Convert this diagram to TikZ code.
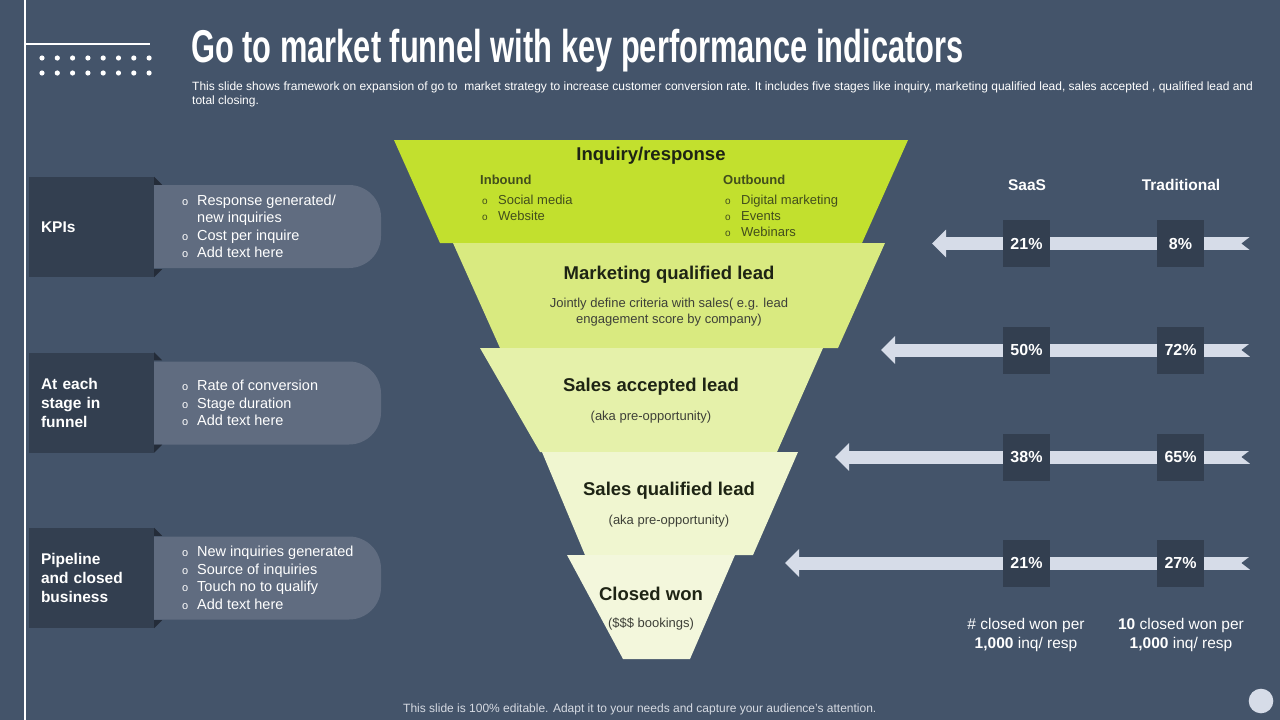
\documentclass[tikz,border=0pt]{standalone}
\usepackage{fontspec}
\setmainfont{Liberation Sans}
\newfontfamily\titlefont[FakeStretch=0.67]{Liberation Sans}
\usetikzlibrary{arrows.meta,positioning}

\definecolor{slate}{RGB}{68,84,106}
\definecolor{slatedark}{RGB}{51,63,80}
\definecolor{slatefold}{RGB}{36,44,57}
\definecolor{pillgray}{RGB}{96,108,128}
\definecolor{bandgray}{RGB}{214,220,232}
\definecolor{footgray}{RGB}{214,218,226}
\definecolor{lvlone}{RGB}{194,224,46}
\definecolor{lvltwo}{RGB}{217,234,128}
\definecolor{lvlthree}{RGB}{229,241,170}
\definecolor{lvlfour}{RGB}{240,246,208}
\definecolor{lvlfive}{RGB}{243,247,220}
\definecolor{headink}{RGB}{30,36,20}
\definecolor{noteink}{RGB}{62,64,56}
\definecolor{oliveink}{RGB}{66,78,28}

\newcommand{\fs}[2]{\fontsize{#1}{#2}\selectfont}
\newcommand{\blt}{\makebox[16pt][l]{\hspace*{1pt}\fs{11}{11}o}}
\newcommand{\fblt}{\makebox[16pt][l]{\hspace*{0pt}\fs{10}{10}o}}

\begin{document}
\begin{tikzpicture}[
    x=1pt,
    y=-1pt,
    kpibox/.style={
        fill=slatedark,
        minimum width=125pt,
        minimum height=100pt,
        text width=101pt,
        inner sep=0pt,
        align=left,
        text=white,
        font=\fs{15.5}{19}\bfseries
    },
    pill/.style={
        fill=pillgray,
        rounded corners=32pt,
        minimum width=261pt,
        minimum height=83pt
    },
    items/.style={
        anchor=west,
        align=left,
        inner sep=0pt,
        text=white,
        font=\fs{14.5}{17.5}
    },
    stagehead/.style={
        inner sep=0pt,
        text=headink,
        font=\fs{18.5}{22}\bfseries
    },
    stagenote/.style={
        inner sep=0pt,
        align=center,
        text=noteink,
        font=\fs{13}{16}
    },
    subhead/.style={
        anchor=west,
        inner sep=0pt,
        text=oliveink,
        font=\fs{13}{16}\bfseries
    },
    subitems/.style={
        anchor=west,
        align=left,
        inner sep=0pt,
        text=oliveink,
        font=\fs{13}{16}
    },
    colhead/.style={
        inner sep=0pt,
        text=white,
        font=\fs{15.5}{19}\bfseries
    },
    rate/.style={
        fill=slatedark,
        minimum size=47pt,
        inner sep=0pt,
        text=white,
        font=\fs{16}{16}\bfseries
    },
    colnote/.style={
        inner sep=0pt,
        align=center,
        text=white,
        font=\fs{15.5}{19}
    },
    band/.style={
        draw=bandgray,
        line width=13pt,
        -{Triangle[width=27pt,length=14pt]}
    },
    notch/.style={
        fill=slate
    }
]

\useasboundingbox (0,0) rectangle (1280,720);
\fill[slate] (0,0) rectangle (1280,720);

\draw[white, line width=2pt] (25,0) -- (25,720);
\draw[white, line width=2pt] (25,44) -- (150,44);
\foreach \i in {0,...,7} {
    \fill[white] (42+15.3*\i,58) circle (2.6);
    \fill[white] (42+15.3*\i,73) circle (2.6);
}

\node[anchor=base west, inner sep=0pt, text=white, font=\titlefont\fs{46}{46}\bfseries] (title) at (191,62)
    {Go to market funnel with key performance indicators};
\node[anchor=north west, inner sep=0pt, align=left, text=white, font=\fs{12}{14}] (subtitle) at (192,82)
    {This slide shows framework on expansion of go to \ market strategy to increase customer conversion rate. It includes five stages like inquiry, marketing qualified lead, sales accepted , qualified lead and\\total closing.};

\node[pill] (pill1) at (250.5,226.5) {};
\node[pill] (pill2) at (250.5,403) {};
\node[pill] (pill3) at (250.5,578) {};

\node[kpibox] (kpi1) at (91.5,227) {KPIs};
\node[kpibox] (kpi2) at (91.5,402.5) {At each\\stage in\\funnel};
\node[kpibox] (kpi3) at (91.5,578) {Pipeline\\and closed\\business};

\fill[slatefold] (kpi1.north east) -- ++(8,8) -- ++(-8,0) -- cycle;
\fill[slatefold] (kpi1.south east) -- ++(8,-8) -- ++(-8,0) -- cycle;
\fill[slatefold] (kpi2.north east) -- ++(8,8) -- ++(-8,0) -- cycle;
\fill[slatefold] (kpi2.south east) -- ++(8,-8) -- ++(-8,0) -- cycle;
\fill[slatefold] (kpi3.north east) -- ++(8,8) -- ++(-8,0) -- cycle;
\fill[slatefold] (kpi3.south east) -- ++(8,-8) -- ++(-8,0) -- cycle;

\node[items] (list1) at (181,226.5) {\blt Response generated/\\\hspace*{16pt}new inquiries\\\blt Cost per inquire\\\blt Add text here};
\node[items] (list2) at (181,403) {\blt Rate of conversion\\\blt Stage duration\\\blt Add text here};
\node[items] (list3) at (181,578) {\blt New inquiries generated\\\blt Source of inquiries\\\blt Touch no to qualify\\\blt Add text here};

\fill[lvlone] (394,140) -- (908,140) -- (862,243) -- (440,243) -- cycle;
\fill[lvltwo] (453,243) -- (885,243) -- (838,348) -- (500,348) -- cycle;
\fill[lvlthree] (480,348) -- (823,348) -- (777,452) -- (540,452) -- cycle;
\fill[lvlfour] (542,452) -- (798,452) -- (753,555) -- (585,555) -- cycle;
\fill[lvlfive] (567,555) -- (735,555) -- (690,659) -- (623,659) -- cycle;

\node[stagehead] (inq) at (651,156) {Inquiry/response};
\node[subhead] (inb) at (480,180) {Inbound};
\node[subitems] (inblist) at (482,208) {\fblt Social media\\\fblt Website};
\node[subhead] (outb) at (723,180) {Outbound};
\node[subitems] (outblist) at (725,216) {\fblt Digital marketing\\\fblt Events\\\fblt Webinars};

\node[stagehead] (mql) at (669,275) {Marketing qualified lead};
\node[stagenote] (mqlnote) at (669,312.5) {Jointly define criteria with sales( e.g. lead\\engagement score by company)};
\node[stagehead] (sal) at (651,387) {Sales accepted lead};
\node[stagenote] (salnote) at (651,417) {(aka pre-opportunity)};
\node[stagehead] (sql) at (669,491) {Sales qualified lead};
\node[stagenote] (sqlnote) at (669,521) {(aka pre-opportunity)};
\node[stagehead] (won) at (651,594) {Closed won};
\node[stagenote] (wonnote) at (651,624) {(\$\$\$ bookings)};

\coordinate (tail1) at (1250,243.5);
\coordinate (tip1) at (932,243.5);
\coordinate (tail2) at (1250,350);
\coordinate (tip2) at (881,350);
\coordinate (tail3) at (1250,457);
\coordinate (tip3) at (835,457);
\coordinate (tail4) at (1250,563);
\coordinate (tip4) at (785,563);

\draw[band] (tail1) -- (tip1);
\draw[band] (tail2) -- (tip2);
\draw[band] (tail3) -- (tip3);
\draw[band] (tail4) -- (tip4);

\fill[notch] (tail1) ++(0.5,-7) -- ++(-9,7) -- ++(9,7) -- cycle;
\fill[notch] (tail2) ++(0.5,-7) -- ++(-9,7) -- ++(9,7) -- cycle;
\fill[notch] (tail3) ++(0.5,-7) -- ++(-9,7) -- ++(9,7) -- cycle;
\fill[notch] (tail4) ++(0.5,-7) -- ++(-9,7) -- ++(9,7) -- cycle;

\node[colhead] (saas) at (1027,185) {SaaS};
\node[colhead] (trad) at (1181,185) {Traditional};

\node[rate] (saas1) at (1026.5,243.5) {21\%};
\node[rate] (trad1) at (1180.5,243.5) {8\%};
\node[rate] (saas2) at (1026.5,350) {50\%};
\node[rate] (trad2) at (1180.5,350) {72\%};
\node[rate] (saas3) at (1026.5,457) {38\%};
\node[rate] (trad3) at (1180.5,457) {65\%};
\node[rate] (saas4) at (1026.5,563) {21\%};
\node[rate] (trad4) at (1180.5,563) {27\%};

\node[colnote] (saasnote) at (1026,635) {\# closed won per\\\textbf{1,000} inq/ resp};
\node[colnote] (tradnote) at (1181,635) {\textbf{10} closed won per\\\textbf{1,000} inq/ resp};

\node[anchor=base west, inner sep=0pt, text=footgray, font=\fs{12}{14}] (footer) at (403,712)
    {This slide is 100\% editable. Adapt it to your needs and capture your audience's attention.};
\fill[bandgray] (1261,701) circle (12.3);

\end{tikzpicture}
\end{document}
